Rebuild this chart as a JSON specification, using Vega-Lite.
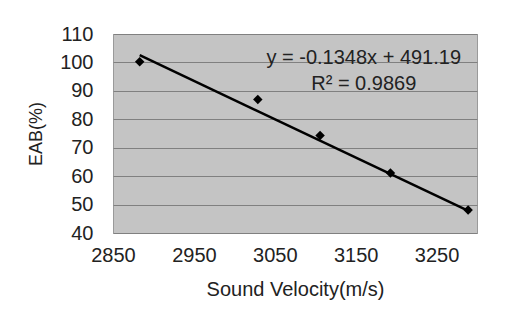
{
  "$schema": "https://vega.github.io/schema/vega-lite/v6.json",
  "width": 364,
  "height": 199,
  "autosize": {"type": "none"},
  "padding": {"left": 113, "top": 34, "right": 42, "bottom": 91},
  "background": "white",
  "config": {
    "font": "Liberation Sans",
    "view": {"fill": "#c4c4c4", "stroke": "#9a9a9a", "strokeWidth": 1},
    "axis": {
      "labelFont": "Liberation Sans",
      "titleFont": "Liberation Sans",
      "labelColor": "#222222",
      "titleColor": "#222222",
      "titleFontWeight": "normal",
      "domain": false,
      "ticks": false,
      "labelOverlap": false,
      "labelFlush": false
    }
  },
  "encoding": {
    "x": {
      "field": "velocity", "type": "quantitative",
      "scale": {"domain": [2850, 3300], "nice": false, "zero": false},
      "axis": {
        "values": [2850, 2950, 3050, 3150, 3250],
        "format": "d",
        "grid": false,
        "labelFontSize": 20,
        "labelPadding": 12,
        "title": "Sound Velocity(m/s)",
        "titleFontSize": 20,
        "titlePadding": 14
      }
    },
    "y": {
      "field": "eab", "type": "quantitative",
      "scale": {"domain": [40, 110], "nice": false, "zero": false},
      "axis": {
        "values": [40, 50, 60, 70, 80, 90, 100, 110],
        "tickCount": 8,
        "grid": true,
        "gridColor": "#808080",
        "gridWidth": 1,
        "labelFontSize": 20,
        "labelPadding": 20,
        "title": "EAB(%)",
        "titleFontSize": 18,
        "titlePadding": 14
      }
    }
  },
  "layer": [
    {
      "data": {"values": [
        {"velocity": 2883, "eab": 100.2},
        {"velocity": 3029, "eab": 87.0},
        {"velocity": 3106, "eab": 74.3},
        {"velocity": 3193, "eab": 61.1},
        {"velocity": 3289, "eab": 48.1}
      ]},
      "mark": {"type": "point", "shape": "diamond", "filled": true, "color": "#000000", "size": 90, "opacity": 1}
    },
    {
      "data": {"values": [
        {"velocity": 2883, "eab": 102.56},
        {"velocity": 3292, "eab": 47.42}
      ]},
      "mark": {"type": "line", "color": "#000000", "strokeWidth": 2.5}
    },
    {
      "data": {"values": [
        {"velocity": 3160, "eab": 101.6, "label": "y = -0.1348x + 491.19"},
        {"velocity": 3160, "eab": 92.4, "label": "R² = 0.9869"}
      ]},
      "mark": {"type": "text", "fontSize": 20, "color": "#222222", "align": "center", "baseline": "middle"},
      "encoding": {
        "text": {"field": "label"}
      }
    }
  ]
}
